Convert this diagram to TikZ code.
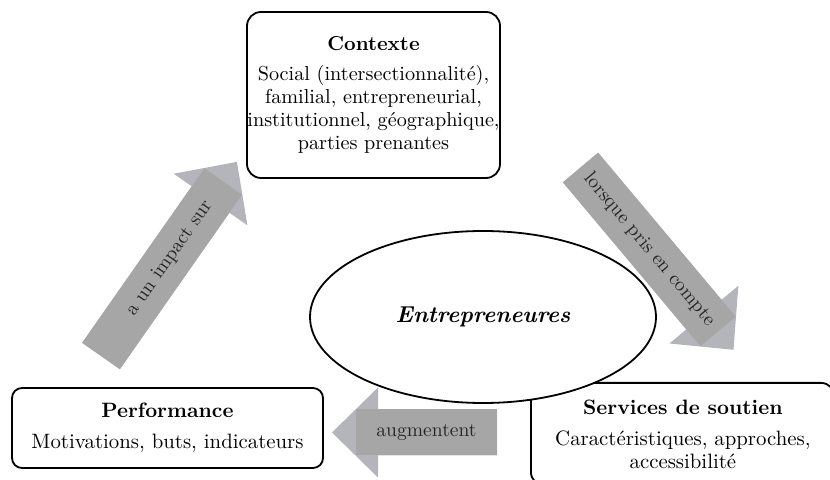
\documentclass[tikz,border=0pt]{standalone}
\usepackage{fontspec}
\usepackage{xcolor}
\usetikzlibrary{shapes.geometric, positioning}

\definecolor{arrowbody}{HTML}{A6A6A6}
\definecolor{arrowhead}{HTML}{B4B5BA}

\begin{document}
\begin{tikzpicture}[x=0.5pt, y=-0.5pt,
  every node/.style={font=\fontsize{10.4}{11.5}\selectfont},
  box/.style={rectangle, rounded corners=7pt, draw, line width=0.9pt, fill=white, align=center, inner sep=0pt},
  bubble/.style={ellipse, draw, line width=0.9pt, fill=white, inner sep=0pt, minimum width=173pt, minimum height=86pt},
  headshape/.style={fill=arrowhead},
  arrowtext/.style={fill=arrowbody, text=black!85, inner sep=0pt, minimum height=23pt, font=\fontsize{9.8}{11}\selectfont}]

  \useasboundingbox (0,0) rectangle (830,480);
  \clip (0,0) rectangle (830,480);

  % block arrows
  \begin{scope}[shift={(101,356)}, rotate=55]
    \fill[headshape] (0,-23) -- (191,-23) -- (191,-45) -- (237,0) -- (191,45) -- (191,23) -- (0,23) -- cycle;
    \node[arrowtext, minimum width=106.5pt, rotate=55] (impact) at (106.5,0) {\hspace*{13pt}a un impact sur};
  \end{scope}
  \begin{scope}[shift={(580.5,167.5)}, rotate=-50]
    \fill[headshape] (0,-23) -- (192,-23) -- (192,-45) -- (238,0) -- (192,45) -- (192,23) -- (0,23) -- cycle;
    \node[arrowtext, minimum width=107pt, rotate=-50] (compte) at (107,0) {lorsque pris en compte};
  \end{scope}
  \begin{scope}[shift={(497,432.5)}, rotate=180]
    \fill[headshape] (0,-23) -- (119,-23) -- (119,-45) -- (165,0) -- (119,45) -- (119,23) -- (0,23) -- cycle;
    \node[arrowtext, minimum width=70.5pt] (augm) at (70.5,0) {augmentent};
  \end{scope}

  % boxes
  \node[box, minimum width=126.5pt, minimum height=83pt, font=\fontsize{10.1}{11.5}\selectfont] (ctx) at (373.5,95)
    {\textbf{Contexte}\\[3.5pt] Social (intersectionnalité),\\ familial, entrepreneurial,\\ institutionnel, géographique,\\ parties prenantes};
  \node[box, rounded corners=5pt, minimum width=155.5pt, minimum height=40pt] (perf) at (167.5,428)
    {\textbf{Performance}\\[4pt] Motivations, buts, indicateurs};
  \node[box, anchor=north west, minimum width=152pt, minimum height=51.5pt] (serv) at (530,382)
    {\textbf{Services de soutien}\\[4pt] Caractéristiques, approches,\\ accessibilité};

  \node[bubble] (entr) at (483,317) {\fontsize{11.5}{13}\selectfont\bfseries\itshape Entrepreneures};
\end{tikzpicture}
\end{document}
